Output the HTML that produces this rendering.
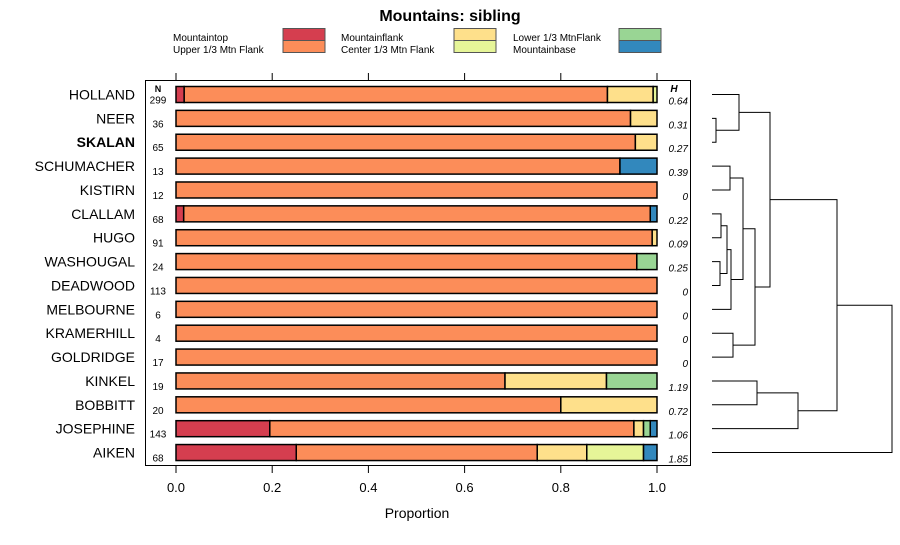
<!DOCTYPE html>
<html><head><meta charset="utf-8"><style>
body{margin:0;background:#fff;}
svg{font-family:"Liberation Sans",sans-serif;}
</style></head><body>
<svg id="c" width="900" height="540" xmlns="http://www.w3.org/2000/svg"></svg>
<script>
const names=["HOLLAND","NEER","SKALAN","SCHUMACHER","KISTIRN","CLALLAM","HUGO","WASHOUGAL","DEADWOOD","MELBOURNE","KRAMERHILL","GOLDRIDGE","KINKEL","BOBBITT","JOSEPHINE","AIKEN"];
const nVals=[299,36,65,13,12,68,91,24,113,6,4,17,19,20,143,68];
const hVals=["0.64","0.31","0.27","0.39","0","0.22","0.09","0.25","0","0","0","0","1.19","0.72","1.06","1.85"];
const categories=["Mountaintop","Upper 1/3 Mtn Flank","Mountainflank","Center 1/3 Mtn Flank","Lower 1/3 MtnFlank","Mountainbase"];
const colors=["#d53e4f","#fc8d59","#fee08b","#e6f598","#99d594","#3288bd"];
const sMountaintop=[0.017,0,0,0,0,0.016,0,0,0,0,0,0,0,0,0.195,0.25];
const sUpper=[0.88,0.945,0.955,0.923,1,0.97,0.99,0.958,1,1,1,1,0.684,0.8,0.757,0.501];
const sFlank=[0.095,0.055,0.045,0,0,0,0.01,0,0,0,0,0,0.211,0.2,0.02,0.103];
const sCenter=[0.008,0,0,0,0,0,0,0,0,0,0,0,0,0,0,0.118];
const sLower=[0,0,0,0,0,0,0,0.042,0,0,0,0,0.105,0,0.014,0];
const sBase=[0,0,0,0.077,0,0.014,0,0,0,0,0,0,0,0,0.014,0.028];
const series=[sMountaintop,sUpper,sFlank,sCenter,sLower,sBase];
const ticks=[0,0.2,0.4,0.6,0.8,1.0];
// dendrogram merges: [left, right, height]; negative = leaf index (-(i+1)), positive = merge index (1-based)
const merges=[[-2,-3,4],[-1,1,27],[-4,-5,18],[-6,-7,9],[-8,-9,8],[4,5,15],[6,-10,19],[3,7,31],[-11,-12,21],[8,9,43],[2,10,58],[-13,-14,45],[12,-15,86],[11,13,125],[14,-16,180]];
const NS="http://www.w3.org/2000/svg";
const svg=document.getElementById('c');
function el(t,a,p){const e=document.createElementNS(NS,t);for(const k in a)e.setAttribute(k,a[k]);(p||svg).appendChild(e);return e;}
const x=v=>176+v*481;
const y=i=>94.5+i*23.87;
const dx=h=>712+h;
let t=el('text',{x:450,y:21,'text-anchor':'middle','font-size':16,'font-weight':'bold'});t.textContent="Mountains: sibling";

// legend
const lx=[[173,283],[341,454],[513,619]];
categories.forEach((c,k)=>{const col=Math.floor(k/2)===0?0:0;});
const legOrder=[[0,1],[2,3],[4,5]];
legOrder.forEach((pair,ci)=>{pair.forEach((k,ri)=>{
 const g=el('g',{});
 
 const tt=el('text',{x:lx[ci][0],y:41+ri*12,'font-size':10},g);tt.textContent=categories[k];
 el('rect',{x:lx[ci][1],y:28.5+ri*12,width:42,height:12,fill:colors[k],stroke:'#555','stroke-width':1},g);
});});
// panel
const p=el('rect',{x:145.5,y:80.5,width:545,height:385,fill:'none',stroke:'#000','stroke-width':1});

ticks.forEach(v=>{
 el('line',{x1:x(v),x2:x(v),y1:73,y2:80,stroke:'#000'});
 el('line',{x1:x(v),x2:x(v),y1:466,y2:473,stroke:'#000'});
 const tl=el('text',{x:x(v),y:492,'text-anchor':'middle','font-size':13});tl.textContent=v.toFixed(1);
 
});
t=el('text',{x:417,y:518,'text-anchor':'middle','font-size':14});t.textContent="Proportion";

t=el('text',{x:158,y:92,'text-anchor':'middle','font-size':9,'font-weight':'bold'});t.textContent="N";
t=el('text',{x:674,y:92,'text-anchor':'middle','font-size':10,'font-weight':'bold','font-style':'italic'});t.textContent="H";
names.forEach((n,i)=>{
 const yc=y(i);
 const lb=el('text',{x:135,y:yc+5,'text-anchor':'end','font-size':14,'font-weight':n==="SKALAN"?'bold':'normal'});lb.textContent=n;
 
 const nt=el('text',{x:158,y:yc+9,'text-anchor':'middle','font-size':10});nt.textContent=nVals[i];
 
 const ht=el('text',{x:688,y:yc+10,'text-anchor':'end','font-size':10,'font-style':'italic'});ht.textContent=hVals[i];
 
 let cum=0;
 series.forEach((s,k)=>{const v=s[i];if(v<=0)return;
  const r=el('rect',{x:x(cum),y:yc-8,width:x(cum+v)-x(cum),height:16,fill:colors[k],stroke:'#000','stroke-width':1.5});
  
  cum+=v;});
});
// dendrogram
const pos=[];
merges.forEach((m,j)=>{
 const get=c=>c<0?{x:dx(0),y:y(-c-1)}:pos[c-1];
 const a=get(m[0]),b=get(m[1]);const hx=dx(m[2]);
 const pth=el('path',{d:`M${a.x},${a.y}H${hx}V${b.y}H${b.x}`,fill:'none',stroke:'#000','stroke-width':1});
 
 pos.push({x:hx,y:(a.y+b.y)/2});
});
</script>
</body></html>
